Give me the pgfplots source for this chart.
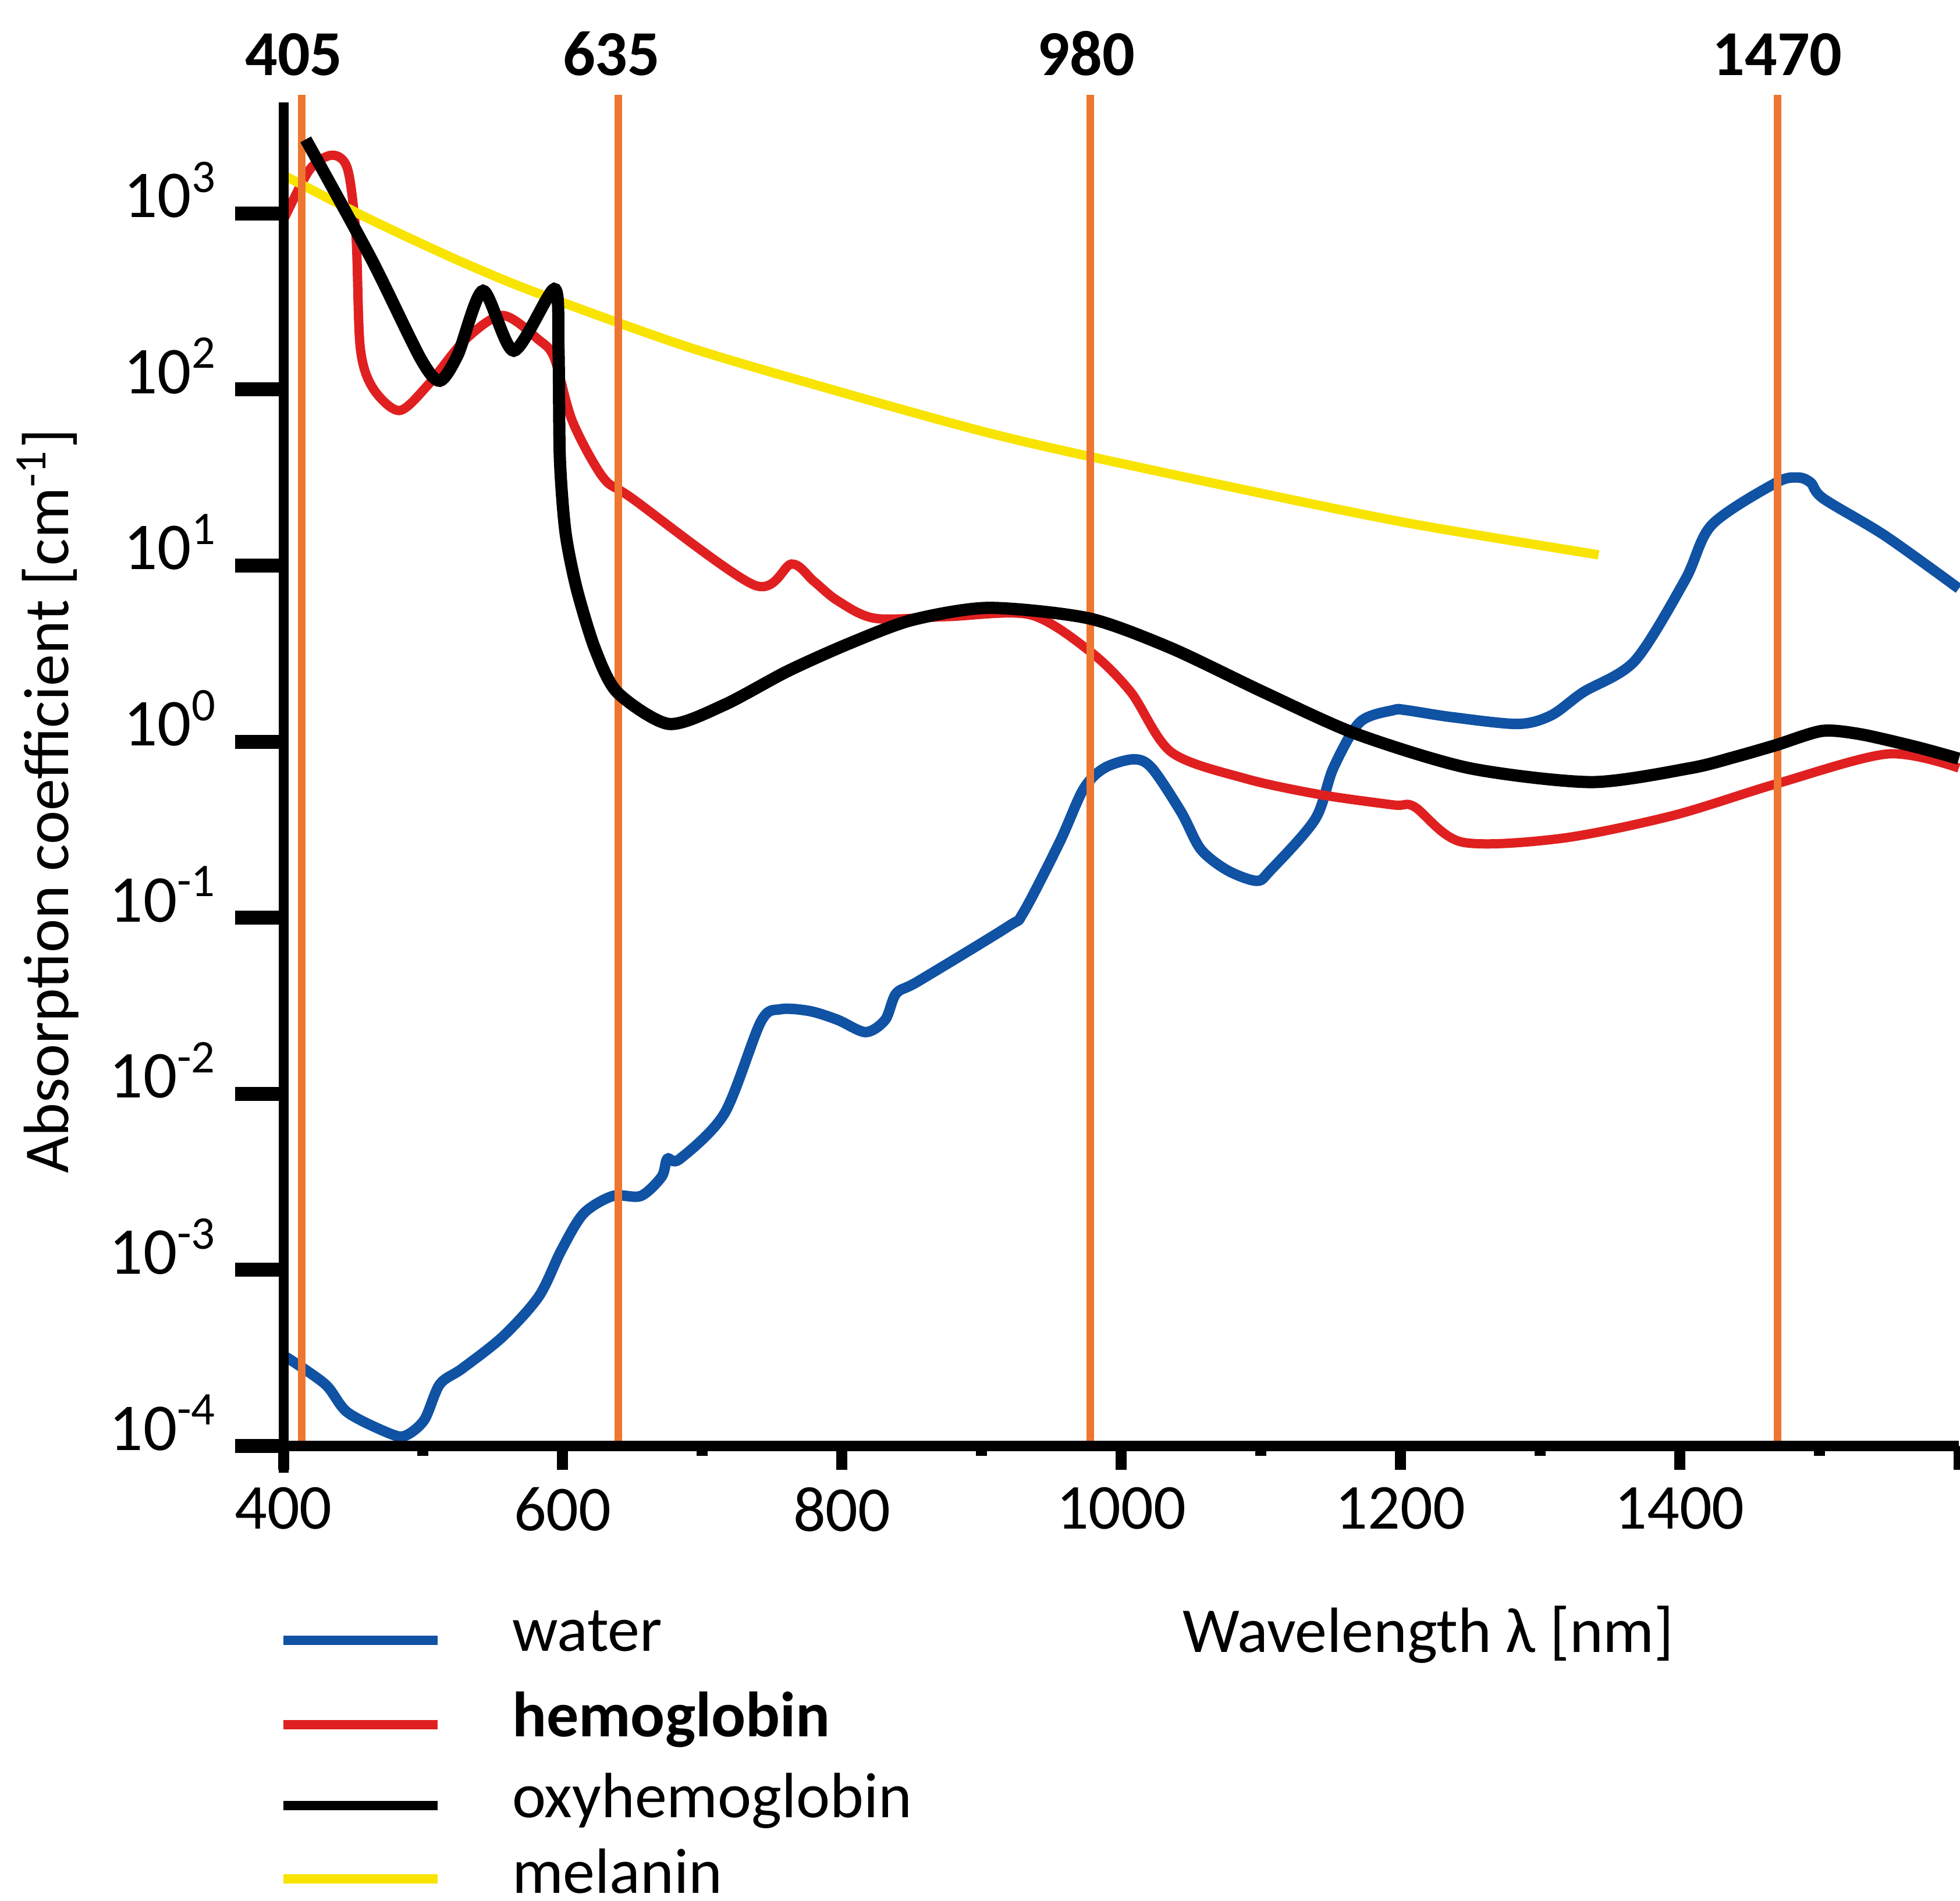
\documentclass[border=0pt]{standalone}
\usepackage{fontspec}
\setmainfont{Carlito}
\usepackage{pgfplots}
\pgfplotsset{compat=1.18}

\definecolor{waterblue}{RGB}{16,82,163}
\definecolor{hemored}{RGB}{224,32,32}
\definecolor{melyellow}{RGB}{248,228,0}
\definecolor{laserorange}{RGB}{238,118,48}

\newcommand{\lbl}{\fontsize{11bp}{13bp}\selectfont}

\begin{document}
\begin{tikzpicture}
\useasboundingbox (-48.7bp,-78.2bp) rectangle (288.1bp,248.5bp);

% main axis: curves, x axis, y axis line
\begin{axis}[
  scale only axis,
  width=287.9bp, height=230.9bp,
  xmin=400, xmax=1600,
  ymode=log, ymin=1e-4, ymax=4266,
  axis x line*=bottom, axis y line*=left,
  xtick={400,600,...,1600},
  xticklabels={400,600,800,1000,1200,1400,{}},
  minor xtick={500,700,...,1500},
  ytick=\empty, yminorticks=false,
  tick align=outside,
  major tick length=4.1bp, minor tick length=1.7bp,
  every tick/.style={black, line width=1.9bp},
  x axis line style={line width=1.8bp},
  y axis line style={line width=1.7bp, shorten <=-4.6bp},
  xticklabel style={font=\lbl, yshift=0.5bp},
  clip=false, axis on top,
]
% water
\addplot[waterblue, line width=1.8bp, smooth, tension=0.5] coordinates {
(402,3.2e-4) (430,2.24e-4) (446,1.55e-4) (477,1.17e-4) (488,1.15e-4)
(501,1.41e-4) (512,2.24e-4) (528,2.75e-4) (557,4.17e-4) (583,7.08e-4)
(599,1.29e-3) (615,2.09e-3) (636,2.63e-3) (656,2.63e-3) (671,3.39e-3)
(675,4.27e-3) (684,4.27e-3) (716,7.76e-3) (742,0.0257) (756,0.0302)
(777,0.0295) (797,0.0263) (817,0.0224) (831,0.0263) (839,0.0372)
(855,0.0437) (919,0.0891) (930,0.107) (956,0.269) (973,0.537)
(988,0.708) (1009,0.794) (1022,0.708) (1043,0.398) (1057,0.245)
(1076,0.186) (1097,0.162) (1107,0.186) (1139,0.363) (1152,0.708)
(1171,1.29) (1195,1.51) (1204,1.51) (1236,1.38) (1284,1.26)
(1308,1.41) (1331,1.91) (1368,2.88) (1404,8.3) (1423,17.0)
(1469,29.5) (1485,31.6) (1494,29.5) (1503,24.0) (1547,14.8) (1600,7.4)
};
% hemoglobin
\addplot[hemored, line width=1.6bp, smooth, tension=0.5] coordinates {
(401,950) (419,1780) (435,2140) (446,1780) (452,741) (455,174)
(464,102) (483,75.9) (504,107) (530,191) (557,263) (583,191)
(594,151) (607,66) (629,31.6) (650,24.0) (737,7.76) (764,10.2)
(780,8.13) (797,6.31) (824,5.01) (876,5.13) (935,5.25) (978,3.24)
(1007,1.91) (1036,0.871) (1089,0.617) (1142,0.501) (1195,0.437)
(1210,0.427) (1244,0.269) (1315,0.282) (1395,0.380) (1469,0.575)
(1549,0.851) (1600,0.708)
};
% melanin
\addplot[melyellow, line width=1.6bp, smooth] coordinates {
(402,1620) (440,1130) (477,811) (530,520) (583,350) (690,174)
(797,97.7) (900,58) (977,41.7) (1113,24.5) (1213,17.0) (1342,11.5)
};
% laser wavelengths
\addplot[laserorange, line width=1.3bp] coordinates {(413,1e-4) (413,4700)};
\addplot[laserorange, line width=1.3bp] coordinates {(640,1e-4) (640,4700)};
\addplot[laserorange, line width=1.3bp] coordinates {(978,1e-4) (978,4700)};
\addplot[laserorange, line width=1.3bp] coordinates {(1470,1e-4) (1470,4700)};
% oxyhemoglobin
\addplot[black, line width=2.1bp, smooth, tension=0.45] coordinates {
(416,2630) (463,550) (498,151) (512,112) (525,158) (543,363) (565,166)
(594,372) (597,174) (598,40.7) (602,15.5) (610,7.41) (623,3.39)
(639,1.91) (676,1.26) (716,1.62) (761,2.51) (805,3.6) (850,4.9)
(905,5.75) (977,5.01) (1036,3.39) (1102,1.91) (1168,1.11) (1249,0.708)
(1337,0.589) (1408,0.708) (1440,0.82) (1469,0.955) (1502,1.15)
(1530,1.1) (1570,0.93) (1600,0.8)
};

% wavelength labels on top
\node[font=\lbl\bfseries, anchor=base, yshift=4.6bp] at (axis cs:407.5,4266) {405};
\node[font=\lbl\bfseries, anchor=base, yshift=4.6bp] at (axis cs:635,4266) {635};
\node[font=\lbl\bfseries, anchor=base, yshift=4.6bp] at (axis cs:975,4266) {980};
\node[font=\lbl\bfseries, anchor=base, yshift=4.6bp] at (axis cs:1470,4266) {1470};

% axis titles
\node[font=\lbl, rotate=90] at ([xshift=-40.5bp]rel axis cs:0,0.48) {Absorption coefficient [cm\textsuperscript{-1}]};
\node[font=\lbl, anchor=base, yshift=-35.4bp] at (axis cs:1220,1e-4) {Wavelength λ [nm]};

% legend
\draw[waterblue, line width=1.6bp] ([yshift=-33.4bp]rel axis cs:0,0) -- ([xshift=26.5bp,yshift=-33.4bp]rel axis cs:0,0);
\draw[hemored, line width=1.6bp] ([yshift=-47.9bp]rel axis cs:0,0) -- ([xshift=26.5bp,yshift=-47.9bp]rel axis cs:0,0);
\draw[black, line width=1.6bp] ([yshift=-61.8bp]rel axis cs:0,0) -- ([xshift=26.5bp,yshift=-61.8bp]rel axis cs:0,0);
\draw[melyellow, line width=1.6bp] ([yshift=-74.4bp]rel axis cs:0,0) -- ([xshift=26.5bp,yshift=-74.4bp]rel axis cs:0,0);
\node[font=\lbl, anchor=base west, inner sep=0pt] at ([xshift=39.1bp, yshift=-35.2bp]rel axis cs:0,0) {water};
\node[font=\lbl\bfseries, anchor=base west, inner sep=0pt] at ([xshift=39.1bp, yshift=-49.9bp]rel axis cs:0,0) {hemoglobin};
\node[font=\lbl, anchor=base west, inner sep=0pt] at ([xshift=39.1bp, yshift=-63.8bp]rel axis cs:0,0) {oxyhemoglobin};
\node[font=\lbl, anchor=base west, inner sep=0pt] at ([xshift=39.1bp, yshift=-76.8bp]rel axis cs:0,0) {melanin};
\end{axis}

% overlay axis: y ticks and labels
\begin{axis}[
  scale only axis,
  width=287.9bp, height=230.9bp,
  xmin=400, xmax=1600,
  ymode=log, ymin=1e-4, ymax=4266,
  hide x axis, axis y line*=left,
  y axis line style={draw=none},
  ytick={1e-4,1e-3,1e-2,1e-1,1,10,100,1000},
  yticklabels={10\textsuperscript{-4},10\textsuperscript{-3},10\textsuperscript{-2},10\textsuperscript{-1},10\textsuperscript{0},10\textsuperscript{1},10\textsuperscript{2},10\textsuperscript{3}},
  yminorticks=false,
  tick align=outside, major tick length=8.3bp,
  every tick/.style={black, line width=2.4bp},
  yticklabel style={font=\fontsize{11.5bp}{14bp}\selectfont, anchor=base east, xshift=0.6bp, yshift=-0.7bp},
]
\end{axis}
\end{tikzpicture}
\end{document}
